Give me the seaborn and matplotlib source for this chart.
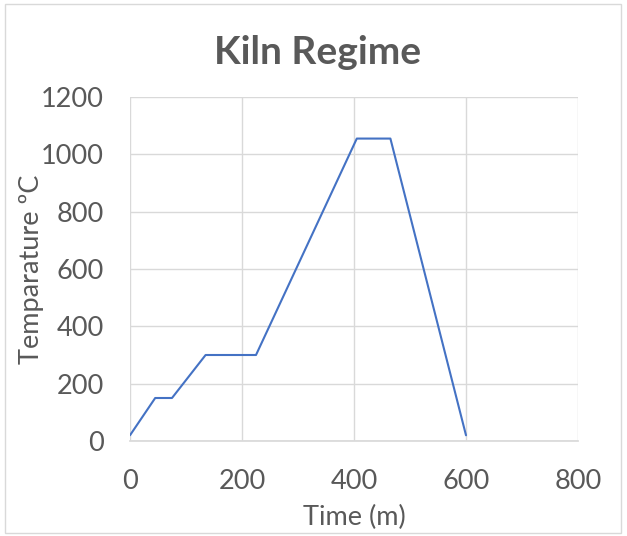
import matplotlib
matplotlib.use("Agg")
import matplotlib.pyplot as plt
import seaborn as sns
import pandas as pd
from matplotlib.patches import Rectangle

time_min = [0, 45, 75, 135, 225, 405, 465, 600]
temperature = [20, 150, 150, 300, 300, 1055, 1055, 20]
x_ticks = [0, 200, 400, 600, 800]
y_ticks = [0, 200, 400, 600, 800, 1000, 1200]

sns.set_theme(style="whitegrid")
plt.rcParams['font.family'] = ['Lato', 'DejaVu Sans']

df = pd.DataFrame({"Time (m)": time_min, "Temp": temperature})

fig = plt.figure(figsize=(6.27, 5.36), dpi=100)
ax = fig.add_axes([130/627, 1-441/536, (578-130)/627, (441-97)/536])

sns.lineplot(data=df, x="Time (m)", y="Temp", ax=ax, color="#4472C4",
             linewidth=1.5, sort=False, estimator=None)

ax.set_xlim(0, 800)
ax.set_ylim(0, 1200)
ax.set_xticks(x_ticks)
ax.set_yticks(y_ticks)
grey = "#595959"
ax.tick_params(axis='both', labelsize=19.5, colors=grey, length=0)
ax.tick_params(axis='x', pad=20)
ax.tick_params(axis='y', pad=19)
ax.grid(True, color="#D9D9D9", linewidth=1.0)
for s in ax.spines.values():
    s.set_visible(False)
ax.spines['bottom'].set_visible(True)
ax.spines['bottom'].set_color("#D9D9D9")
ax.set_xlabel("Time (m)", fontsize=19.5, color=grey, labelpad=8)
ax.set_ylabel("Temparature ºC", fontsize=19.5, color=grey, labelpad=-2)

fig.text(318/627, 1-53/536, "Kiln Regime", ha="center", va="center",
         fontsize=28, fontweight="bold", color=grey)

fig.patches.append(Rectangle((5/627, 3/536), 616/627, 529/536, transform=fig.transFigure,
                             fill=False, edgecolor="#D9D9D9", linewidth=1.0))

fig.savefig("out.png", dpi=100)
